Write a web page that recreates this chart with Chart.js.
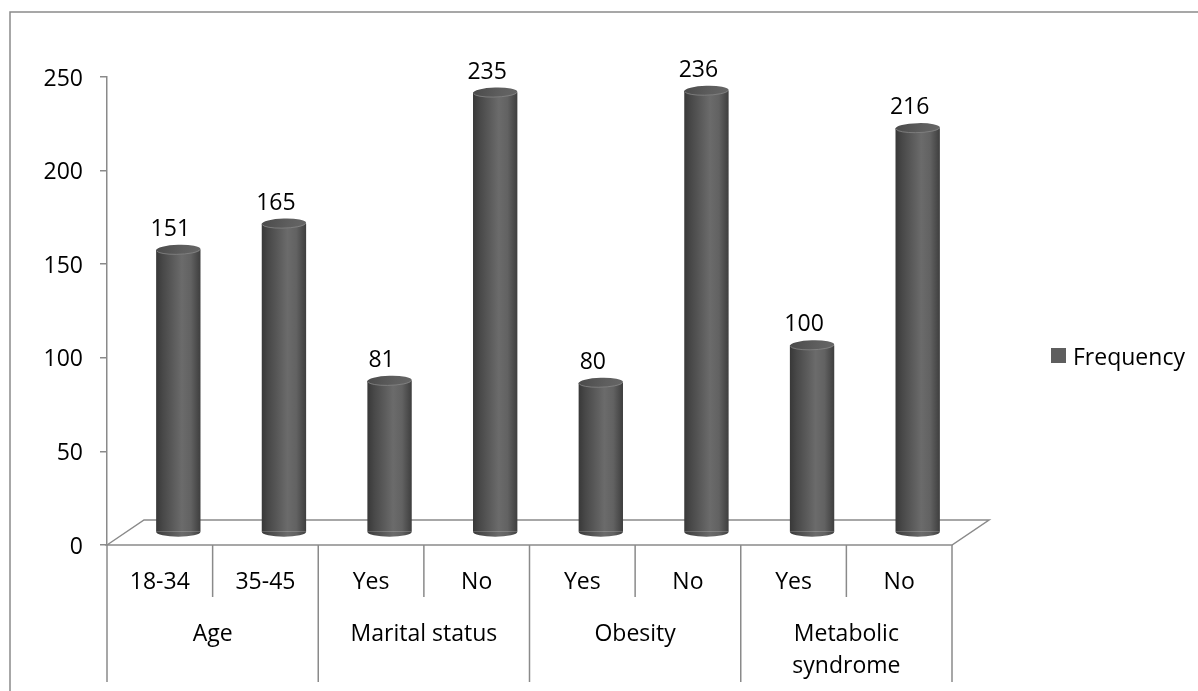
<!DOCTYPE html>
<html>
<head>
<meta charset="utf-8">
<script src="https://cdn.jsdelivr.net/npm/chart.js@4.4.1/dist/chart.umd.min.js"></script>
<style>
  html, body { margin: 0; padding: 0; background: #ffffff; }
  #wrap { width: 1198px; height: 691px; position: relative; overflow: hidden; }
  canvas { display: block; }
</style>
</head>
<body>
<div id="wrap"><canvas id="c" width="1198" height="691"></canvas></div>
<script>
// ---- data ----
const categories = ['18-34', '35-45', 'Yes', 'No', 'Yes', 'No', 'Yes', 'No'];
const frequency = [151, 165, 81, 235, 80, 236, 100, 216];
const groupLabels = [['Age'], ['Marital status'], ['Obesity'], ['Metabolic', 'syndrome']];
const groupSizes = [2, 2, 2, 2];
const yTicks = [0, 50, 100, 150, 200, 250];
const seriesName = 'Frequency';

// ---- style ----
const FONT = "'Open Sans', sans-serif";
const FSIZE = 23;
const LINE = '#8a8a8a';
const LW = 1.5;
const DX = 37, DY = -25;       // 3D depth offset
const BAR_PCT = 0.42;
const RY = 5;                  // ellipse half-height of cylinder caps

function bodyGradient(c, x0, x1) {
  const g = c.createLinearGradient(x0, 0, x1, 0);
  g.addColorStop(0, '#383838');
  g.addColorStop(0.15, '#484848');
  g.addColorStop(0.58, '#6b6b6b');
  g.addColorStop(0.78, '#626262');
  g.addColorStop(1, '#3e3e3e');
  return g;
}

const threeD = {
  id: 'threeD',
  beforeDraw(chart) {
    const c = chart.ctx, a = chart.chartArea;
    const y0 = chart.scales.y.getPixelForValue(0);
    c.save();
    c.strokeStyle = LINE; c.lineWidth = LW;
    // outer frame
    c.strokeRect(10, 12, 1400, 1000);
    // floor
    c.beginPath();
    c.moveTo(a.left, y0);
    c.lineTo(a.left + DX, y0 + DY);
    c.lineTo(a.right + DX, y0 + DY);
    c.lineTo(a.right, y0);
    c.closePath();
    c.stroke();
    c.restore();
  },
  beforeDatasetsDraw(chart) {
    chart.ctx.save();
    chart.ctx.translate(DX / 2, DY / 2);
  },
  afterDatasetsDraw(chart) {
    const c = chart.ctx;
    const meta = chart.getDatasetMeta(0);
    meta.data.forEach(el => {
      const p = el.getProps(['x', 'y', 'base', 'width'], true);
      const x0 = p.x - p.width / 2, x1 = p.x + p.width / 2;
      // bottom half ellipse
      c.beginPath();
      c.ellipse(p.x, p.base, p.width / 2, RY, 0, 0, Math.PI);
      c.fillStyle = bodyGradient(c, x0, x1);
      c.fill();
      // top ellipse
      c.beginPath();
      c.ellipse(p.x, p.y, p.width / 2, RY, -0.03, 0, Math.PI * 2);
      const g = c.createLinearGradient(x0, p.y - RY, x1, p.y + RY);
      g.addColorStop(0, '#4a4a4a');
      g.addColorStop(0.6, '#5e5e5e');
      g.addColorStop(1, '#666666');
      c.fillStyle = g;
      c.fill();
      c.beginPath();
      c.ellipse(p.x, p.y, p.width / 2 - 0.5, RY - 0.5, -0.03, 0.1, Math.PI - 0.1);
      c.strokeStyle = 'rgba(140,140,140,0.7)';
      c.lineWidth = 1;
      c.stroke();
    });
    c.restore();
    // value labels
    c.save();
    c.font = FSIZE + 'px ' + FONT;
    c.fillStyle = '#000';
    c.textAlign = 'center';
    c.textBaseline = 'alphabetic';
    meta.data.forEach((el, i) => {
      const p = el.getProps(['x', 'y'], true);
      c.fillText(String(frequency[i]), p.x + DX / 2 - 8, p.y + DY / 2 - RY - 9);
    });
    c.restore();
  },
  afterDraw(chart) {
    const c = chart.ctx, a = chart.chartArea, xs = chart.scales.x;
    const y0 = chart.scales.y.getPixelForValue(0);
    const n = categories.length;
    const bound = i => i === 0 ? a.left : (i === n ? a.right : (xs.getPixelForValue(i - 1) + xs.getPixelForValue(i)) / 2);
    const groupStarts = [0];
    groupSizes.forEach(s => groupStarts.push(groupStarts[groupStarts.length - 1] + s));
    c.save();
    c.strokeStyle = LINE; c.lineWidth = LW;
    for (let i = 0; i <= n; i++) {
      const x = bound(i);
      const isGroup = groupStarts.includes(i);
      c.beginPath();
      c.moveTo(x, y0);
      c.lineTo(x, isGroup ? 682 : 597);
      c.stroke();
    }
    c.font = FSIZE + 'px ' + FONT;
    c.fillStyle = '#000';
    c.textAlign = 'center';
    c.textBaseline = 'alphabetic';
    categories.forEach((lab, i) => {
      c.fillText(lab, xs.getPixelForValue(i), 589);
    });
    groupLabels.forEach((lines, g) => {
      const cx = (bound(groupStarts[g]) + bound(groupStarts[g + 1])) / 2;
      lines.forEach((ln, k) => c.fillText(ln, cx, 641 + k * 32));
    });
    // legend
    c.fillStyle = '#5e5e5e';
    c.fillRect(1051, 348, 15, 15);
    c.fillStyle = '#000';
    c.textAlign = 'left';
    c.fillText(seriesName, 1073, 365);
    c.restore();
  }
};

const chart = new Chart(document.getElementById('c').getContext('2d'), {
  type: 'bar',
  data: {
    labels: categories,
    datasets: [{
      label: seriesName,
      data: frequency,
      barPercentage: BAR_PCT,
      categoryPercentage: 1,
      borderWidth: 0,
      backgroundColor: (ctx) => {
        const ch = ctx.chart;
        if (!ch.chartArea || !ch.scales.x) return '#555555';
        const xs = ch.scales.x;
        const cx = xs.getPixelForValue(ctx.dataIndex);
        const w = xs.width / categories.length * BAR_PCT;
        return bodyGradient(ch.ctx, cx - w / 2, cx + w / 2);
      }
    }]
  },
  options: {
    responsive: false,
    animation: false,
    devicePixelRatio: 1,
    layout: { padding: { left: 10, top: 77, right: 246, bottom: 146 } },
    plugins: { legend: { display: false }, tooltip: { enabled: false } },
    scales: {
      x: { display: false, offset: true },
      y: {
        min: 0, max: 250,
        afterBuildTicks: s => { s.ticks = yTicks.map(v => ({ value: v })); },
        afterFit: s => { s.width = 97; },
        grid: { drawOnChartArea: false, tickLength: 7, color: LINE, lineWidth: LW },
        border: { color: LINE, width: LW },
        ticks: { font: { family: FONT, size: FSIZE }, color: '#000', padding: 17, labelOffset: 2 }
      }
    }
  },
  plugins: [threeD]
});
</script>
</body>
</html>
